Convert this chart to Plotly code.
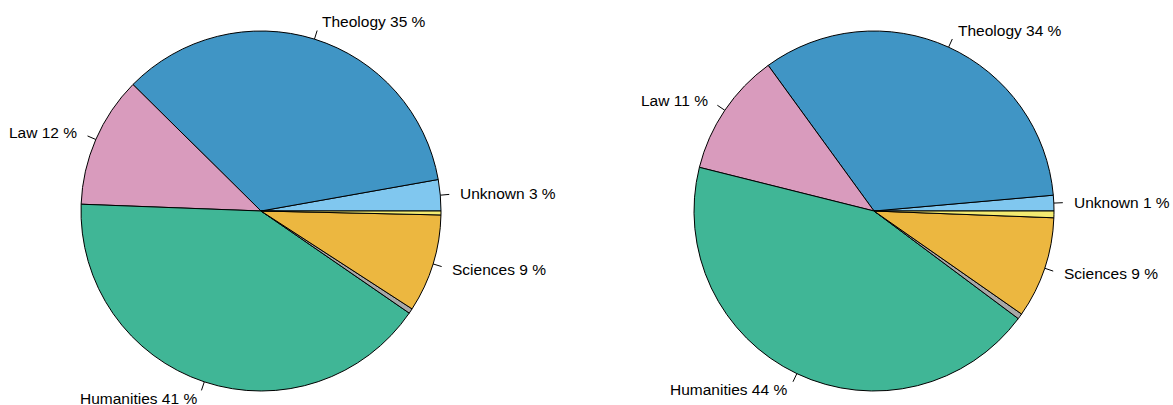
import math
import plotly.graph_objects as go

W, H = 1173, 405

categories = ["Unknown", "Theology", "Law", "Humanities", "Other", "Sciences", "Medicine"]
colors = ["#80C7EF", "#4095C5", "#D99BBD", "#40B696", "#A8A8A8", "#ECB740", "#F4EB71"]
values_left = [2.8, 34.8, 11.8, 41.0, 0.45, 8.8, 0.35]
values_right = [1.4, 33.6, 11.1, 43.7, 0.5, 9.1, 0.6]
show_label = [True, True, True, True, False, True, False]

# pie geometry (pixels)
R = 180
CY = 211
centers_x = [261, 874]

fig = go.Figure()
annotations = []
shapes = []

for cx, vals in zip(centers_x, [values_left, values_right]):
    total = sum(vals)
    first_deg = vals[0] / total * 360
    fig.add_trace(go.Pie(
        labels=categories, values=vals, sort=False, direction="counterclockwise",
        rotation=90 - first_deg, textinfo="none", hoverinfo="label+percent",
        marker=dict(colors=colors, line=dict(color="black", width=1)),
        domain=dict(x=[(cx - R) / W, (cx + R) / W],
                    y=[(H - CY - R) / H, (H - CY + R) / H]),
        showlegend=False,
    ))
    cum = 0.0
    for cat, v, show in zip(categories, vals, show_label):
        a0 = cum / total * 2 * math.pi
        cum += v
        a1 = cum / total * 2 * math.pi
        if not show:
            continue
        mid = (a0 + a1) / 2
        c, s = math.cos(mid), math.sin(mid)
        x0, y0 = cx + R * c, CY - R * s
        x1, y1 = cx + 1.05 * R * c, CY - 1.05 * R * s
        shapes.append(dict(type="line", xref="paper", yref="paper",
                           x0=x0 / W, y0=1 - y0 / H, x1=x1 / W, y1=1 - y1 / H,
                           line=dict(color="black", width=1)))
        lx, ly = cx + 1.1 * R * c, CY - 1.1 * R * s
        pct = round(v / total * 100)
        annotations.append(dict(
            xref="paper", yref="paper", x=lx / W, y=1 - ly / H,
            text=f"{cat} {pct} %", showarrow=False,
            xanchor="left" if c > 0 else "right", yanchor="middle",
            font=dict(family="Liberation Sans, Arial, sans-serif", size=15.5, color="black"),
        ))

fig.update_layout(
    width=W, height=H, margin=dict(l=0, r=0, t=0, b=0),
    paper_bgcolor="white", plot_bgcolor="white",
    annotations=annotations, shapes=shapes,
)
fig.write_html("out.html", config={"displayModeBar": False},
               post_script="document.body.style.margin='0';document.body.style.overflow='hidden';")
